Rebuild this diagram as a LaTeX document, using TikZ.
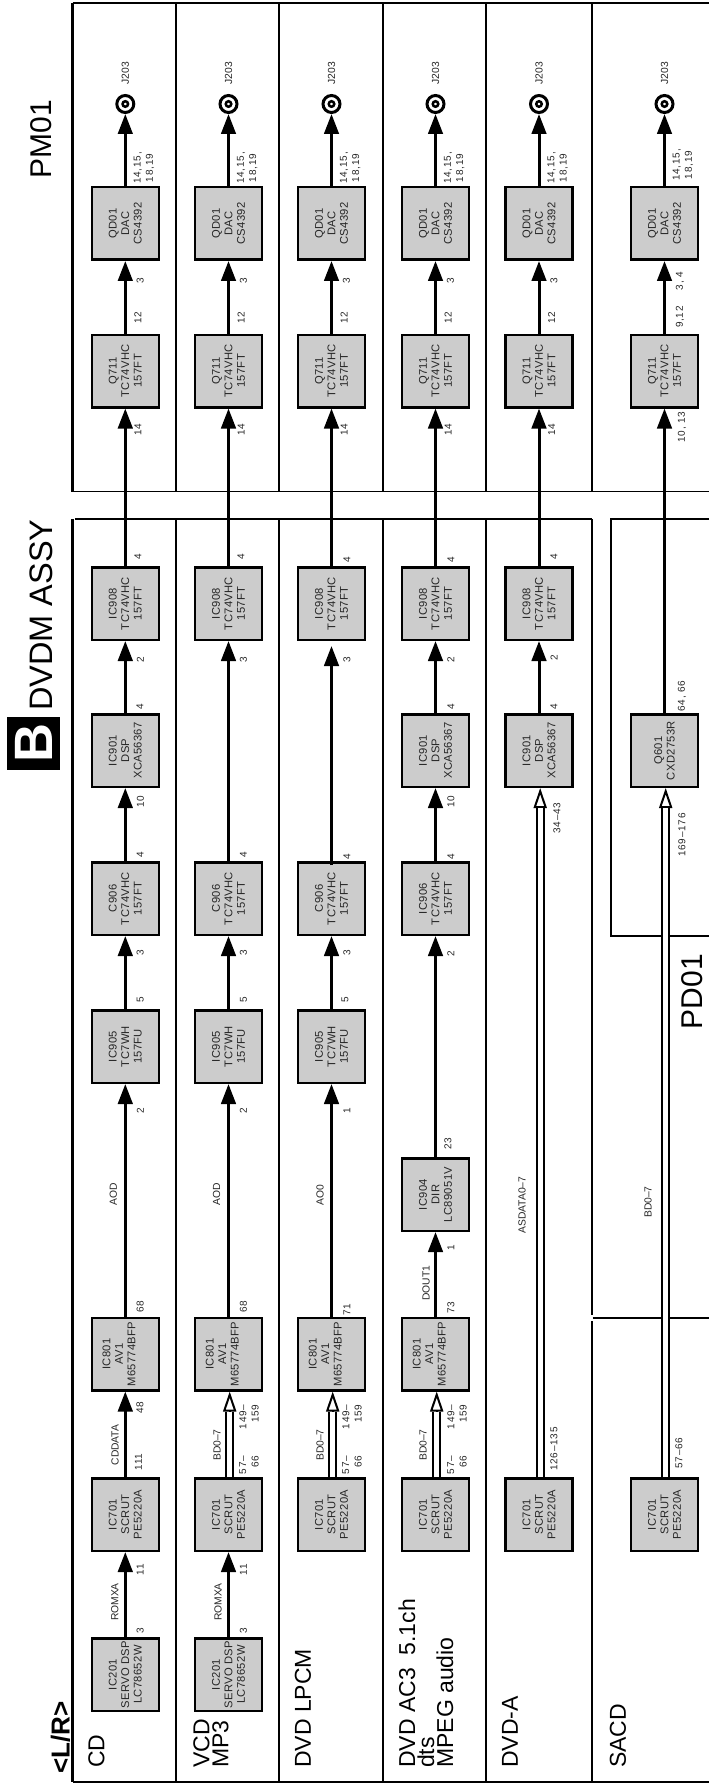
\documentclass[tikz,border=0pt]{standalone}
\usepackage{fontspec}
\setmainfont{Liberation Sans}
\newfontfamily\pinfam[LetterSpace=8]{Liberation Sans}
\newfontfamily\chipfam[LetterSpace=3]{Liberation Sans}
\usetikzlibrary{arrows.meta}
\definecolor{chipfill}{HTML}{CCCCCC}
\definecolor{txt}{HTML}{262626}
\newcount\labn
\newcommand{\Lab}[4][lab]{\global\advance\labn by 1 \node[#1] (L\the\labn) at (#2,#3) {#4};}
\tikzset{
  chip/.style={draw=black,fill=chipfill,line width=2.5pt,minimum width=72.5pt,minimum height=67pt,
    inner sep=0pt,rotate=90,align=center,text=txt,font=\fontsize{11.2}{12.5}\chipfam},
  jack/.style={circle,draw=black,line width=3pt,minimum size=17pt,outer sep=1.5pt,inner sep=0pt},
  jackcore/.style={circle,draw=black,line width=2.5pt,minimum size=5.5pt,inner sep=0pt},
  lab/.style={rotate=90,inner sep=0pt,text=txt,align=center,font=\fontsize{10.3}{12}\selectfont},
  pin/.style={rotate=90,inner sep=0pt,text=txt,align=center,font=\fontsize{10}{12.3}\pinfam},
  pinr/.style={pin,align=right},
  rowtitle/.style={rotate=90,anchor=west,inner sep=0pt,align=left,text=black,font=\fontsize{23}{19}\selectfont},
  bigtitle/.style={rotate=90,inner sep=0pt,text=black},
  sep/.style={line width=1.5pt,draw=black},
  frm/.style={line width=2.4pt,draw=black},
  sig/.style={line width=3pt,-{Triangle[length=20pt,width=14.5pt]},draw=black},
  bushead/.style={line width=2pt,draw=black,-{Triangle[length=20pt,width=13pt,fill=white]}},
  busline/.style={line width=2.2pt,double=white,double distance=4.8pt,draw=black,shorten >=20pt},
}
\newcommand{\Bus}[2]{%
  \draw[bushead] ([xshift=1.2pt]#1.east) -- ([xshift=1.2pt]#2.west);
  \draw[busline] ([xshift=1.2pt]#1.east) -- ([xshift=1.2pt]#2.west);}
\begin{document}
\begin{tikzpicture}[x=1pt,y=-1pt]
\useasboundingbox (0,0) rectangle (709,1784);
\fill[white] (0,0) rectangle (709,1784);

% PM01 frame
\draw[frm] (72.5,491.5) -- (72.5,3);
\draw[sep] (72.5,3) -- (709,3);
\draw[sep] (72.5,491.5) -- (709,491.5);
% DVDM frame
\draw[frm] (72.5,519) -- (72.5,1782);
\draw[sep] (75,519) -- (592,519);
\draw[sep] (72.5,1782) -- (709,1782);
\draw[frm,line width=2pt] (592,519) -- (592,1315);
\draw[frm,line width=2pt] (592,1321) -- (592,1782);
\draw[sep,line width=2pt] (592.5,1318) -- (709,1318);
% PD01 frame
\draw[sep,line width=2pt] (709,519) -- (611,519) -- (611,936) -- (709,936);
% Row separators
\foreach \s in {176,279,486}{
  \draw[sep] (\s,3) -- (\s,491.5);
  \draw[sep] (\s,519) -- (\s,1782);
}
\draw[sep,line width=1.1pt] (383,3) -- (383,491.5);
\draw[sep,line width=1.1pt] (383,519) -- (383,1782);
\draw[sep] (592,3) -- (592,491.5);

% Titles
\node[bigtitle,font=\fontsize{30}{30}\selectfont] (tpm) at (41,139) {PM01};
\node[bigtitle,font=\fontsize{32.5}{32}\selectfont] (tdvdm) at (41,615) {DVDM ASSY};
\node[bigtitle,font=\fontsize{30}{30}\selectfont] (tpd) at (692,991.5) {PD01};
\node[rotate=90,fill=black,minimum size=53pt,inner sep=0pt,text=white,font=\fontsize{54}{54}\bfseries] (tb) at (33.5,743) {B};
\node[bigtitle,font=\fontsize{26}{26}\bfseries] (tlr) at (60.5,1737.5) {<L/R>};
\node[rowtitle] (r1) at (96.5,1768) {CD};
\node[rowtitle] (r2) at (211,1768) {VCD\\MP3};
\node[rowtitle] (r3) at (303,1768) {DVD LPCM};
\node[rowtitle] (r4) at (426,1768) {DVD AC3\ \ 5.1ch\\dts\\MPEG audio};
\node[rowtitle] (r5) at (510,1768) {DVD-A};
\node[rowtitle] (r6) at (618,1768) {SACD};

% Columns common to rows 1-6: DAC, Q711, jack
\foreach \r/\x in {1/125.3,2/228.5,3/331.5,4/435.5,5/539,6/664.5}{
  \node[chip] (qd\r) at (\x,223.5) {QD01\\DAC\\CS4392};
  \node[chip] (qs\r) at (\x,371) {Q711\\TC74VHC\\157FT};
  \node[jack] (j\r) at (\x,104) {};
  \node[jackcore] (jc\r) at (\x,104) {};
  \Lab[lab]{\x}{73}{J203}
  \draw[sig] (qs\r) -- (qd\r);
  \draw[sig] (qd\r) -- (j\r);
}
% IC908 in rows 1-5
\foreach \r/\x in {1/125.3,2/228.5,3/331.5,4/435.5,5/539}{
  \node[chip] (i908\r) at (\x,603.5) {IC908\\TC74VHC\\157FT};
  \draw[sig] (i908\r) -- (qs\r);
  \pgfmathsetmacro{\xa}{\x+12.7}
  \pgfmathsetmacro{\xb}{\x+15}
  \pgfmathsetmacro{\xc}{\x+18.7}
  \Lab[pin]{\xa}{430}{14}
  \Lab[pin]{\xa}{318}{12}
  \Lab[pin]{\xb}{281}{3}
  \Lab[pin]{\xc}{168}{14,15,\\18,19}
}
% Rows 1-4: IC701, IC801
\foreach \r/\x in {1/125.3,2/228.5,3/331.5,4/435.5}{
  \node[chip] (i701\r) at (\x,1514.5) {IC701\\SCRUT\\PE5220A};
  \node[chip] (i801\r) at (\x,1354) {IC801\\AV1\\M65774BFP\\\mbox{}};
}
% Row 1-3 : IC905, C906
\foreach \r/\x in {1/125.3,2/228.5,3/331.5}{
  \node[chip] (i905\r) at (\x,1046.5) {IC905\\TC7WH\\157FU};
  \node[chip] (c906\r) at (\x,898.5) {C906\\TC74VHC\\157FT};
  \draw[sig] (i905\r) -- (c906\r);
}
% Rows 1,2: IC201
\foreach \r/\x in {1/125.3,2/228.5}{
  \node[chip] (i201\r) at (\x,1674.5) {IC201\\SERVO DSP\\LC78652W};
  \draw[sig] (i201\r) -- (i701\r);
  \draw[sig] (i801\r) -- (i905\r);
  \pgfmathsetmacro{\xa}{\x+15}
  \pgfmathsetmacro{\xl}{\x-10.5}
  \pgfmathsetmacro{\xd}{\x-12}
  \Lab[pin]{\xa}{1631}{3}
  \Lab[pin]{\xa}{1570}{11}
  \Lab[pin]{\xa}{1307}{68}
  \Lab[pin]{\xa}{1111}{2}
  \Lab[pin]{\xa}{1000}{5}
  \Lab[pin]{\xa}{953}{3}
  \Lab[pin]{\xa}{855}{4}
  \Lab[lab]{\xl}{1602}{ROMXA}
  \Lab[lab]{\xd}{1194}{AOD}
}
% Row 1 specifics
\node[chip] (i9011) at (125.3,750.5) {IC901\\DSP\\XCA56367};
\draw[sig] (i7011) -- (i8011);
\draw[sig] (c9061) -- (i9011);
\draw[sig] (i9011) -- (i9081);
\Lab[lab]{115}{1445}{CDDATA}
\Lab[pin]{138.5}{1462}{111}
\Lab[pin]{140}{1408}{48}
\Lab[pin]{140.5}{802}{10}
\Lab[pin]{140}{707}{4}
\Lab[pin]{140.5}{660}{2}
\Lab[pin]{138}{557}{4}
% Row 2 specifics
\Bus{i7012}{i8012}
\draw[sig] (c9062) -- (i9082);
\Lab[lab]{217}{1445}{BD0–7}
\Lab[pinr]{249}{1465}{57–\\66}
\Lab[pinr]{249}{1417}{149–\\159}
\Lab[pin]{243.5}{660}{3}
\Lab[pin]{241}{557}{4}
% Row 3
\Bus{i7013}{i8013}
\draw[sig,shorten <=-4pt,shorten >=5pt] (c9063) -- (i9083);
\draw[sig] (i8013) -- (i9053);
\Lab[lab]{320}{1445}{BD0–7}
\Lab[pinr]{352}{1465}{57–\\66}
\Lab[pinr]{352}{1417}{149–\\159}
\Lab[pin]{347}{1310}{71}
\Lab[lab]{320}{1195}{AO0}
\Lab[pin]{347}{1111}{1}
\Lab[pin]{345}{1000}{5}
\Lab[pin]{347}{953}{3}
\Lab[pin]{347}{857}{4}
\Lab[pin]{347}{660}{3}
\Lab[pin]{347}{560}{4}
% Row 4
\node[chip] (i9044) at (435.5,1194.5) {IC904\\DIR\\LC89051V};
\node[chip] (c9064) at (435.5,898.5) {IC906\\TC74VHC\\157FT};
\node[chip] (i9014) at (435.5,750.5) {IC901\\DSP\\XCA56367};
\Bus{i7014}{i8014}
\draw[sig] (i8014) -- (i9044);
\draw[sig] (i9044) -- (c9064);
\draw[sig] (c9064) -- (i9014);
\draw[sig] (i9014) -- (i9084);
\Lab[lab]{423}{1445}{BD0–7}
\Lab[pinr]{457}{1465}{57–\\66}
\Lab[pinr]{457}{1417}{149–\\159}
\Lab[pin]{451}{1308}{73}
\Lab[lab]{426}{1283}{DOUT1}
\Lab[pin]{451}{1248}{1}
\Lab[pin]{448}{1144}{23}
\Lab[pin]{451}{954}{2}
\Lab[pin]{451}{857}{4}
\Lab[pin]{451}{802}{10}
\Lab[pin]{451}{707}{4}
\Lab[pin]{451}{660}{2}
\Lab[pin]{451}{560}{4}
% Row 5
\node[chip] (i7015) at (539,1514.5) {IC701\\SCRUT\\PE5220A};
\node[chip] (i9015) at (539,750.5) {IC901\\DSP\\XCA56367};
\Bus{i7015}{i9015}
\draw[sig] (i9015) -- (i9085);
\Lab[lab]{522}{1205}{ASDATA0–7}
\Lab[pin]{554}{1449}{126–135}
\Lab[pin]{557}{818}{34–43}
\Lab[pin]{554}{707}{4}
\Lab[pin]{554}{658}{2}
\Lab[pin]{554}{557}{4}
% Row 6
\node[chip] (i7016) at (664.5,1514.5) {IC701\\SCRUT\\PE5220A};
\node[chip] (q6016) at (664.5,750.5) {Q601\\CXD2753R};
\Bus{i7016}{q6016}
\draw[sig] (q6016) -- (qs6);
\Lab[lab]{648}{1202}{BD0–7}
\Lab[pin]{679}{1453}{57–66}
\Lab[pin]{682}{835}{169–176}
\Lab[pin]{682}{696}{64, 66}
\Lab[pin]{682}{427}{10, 13}
\Lab[pin]{680}{317}{9,12}
\Lab[pin]{680}{281}{3, 4}
\Lab[pin]{683}{165}{14,15,\\18,19}
\end{tikzpicture}
\end{document}
